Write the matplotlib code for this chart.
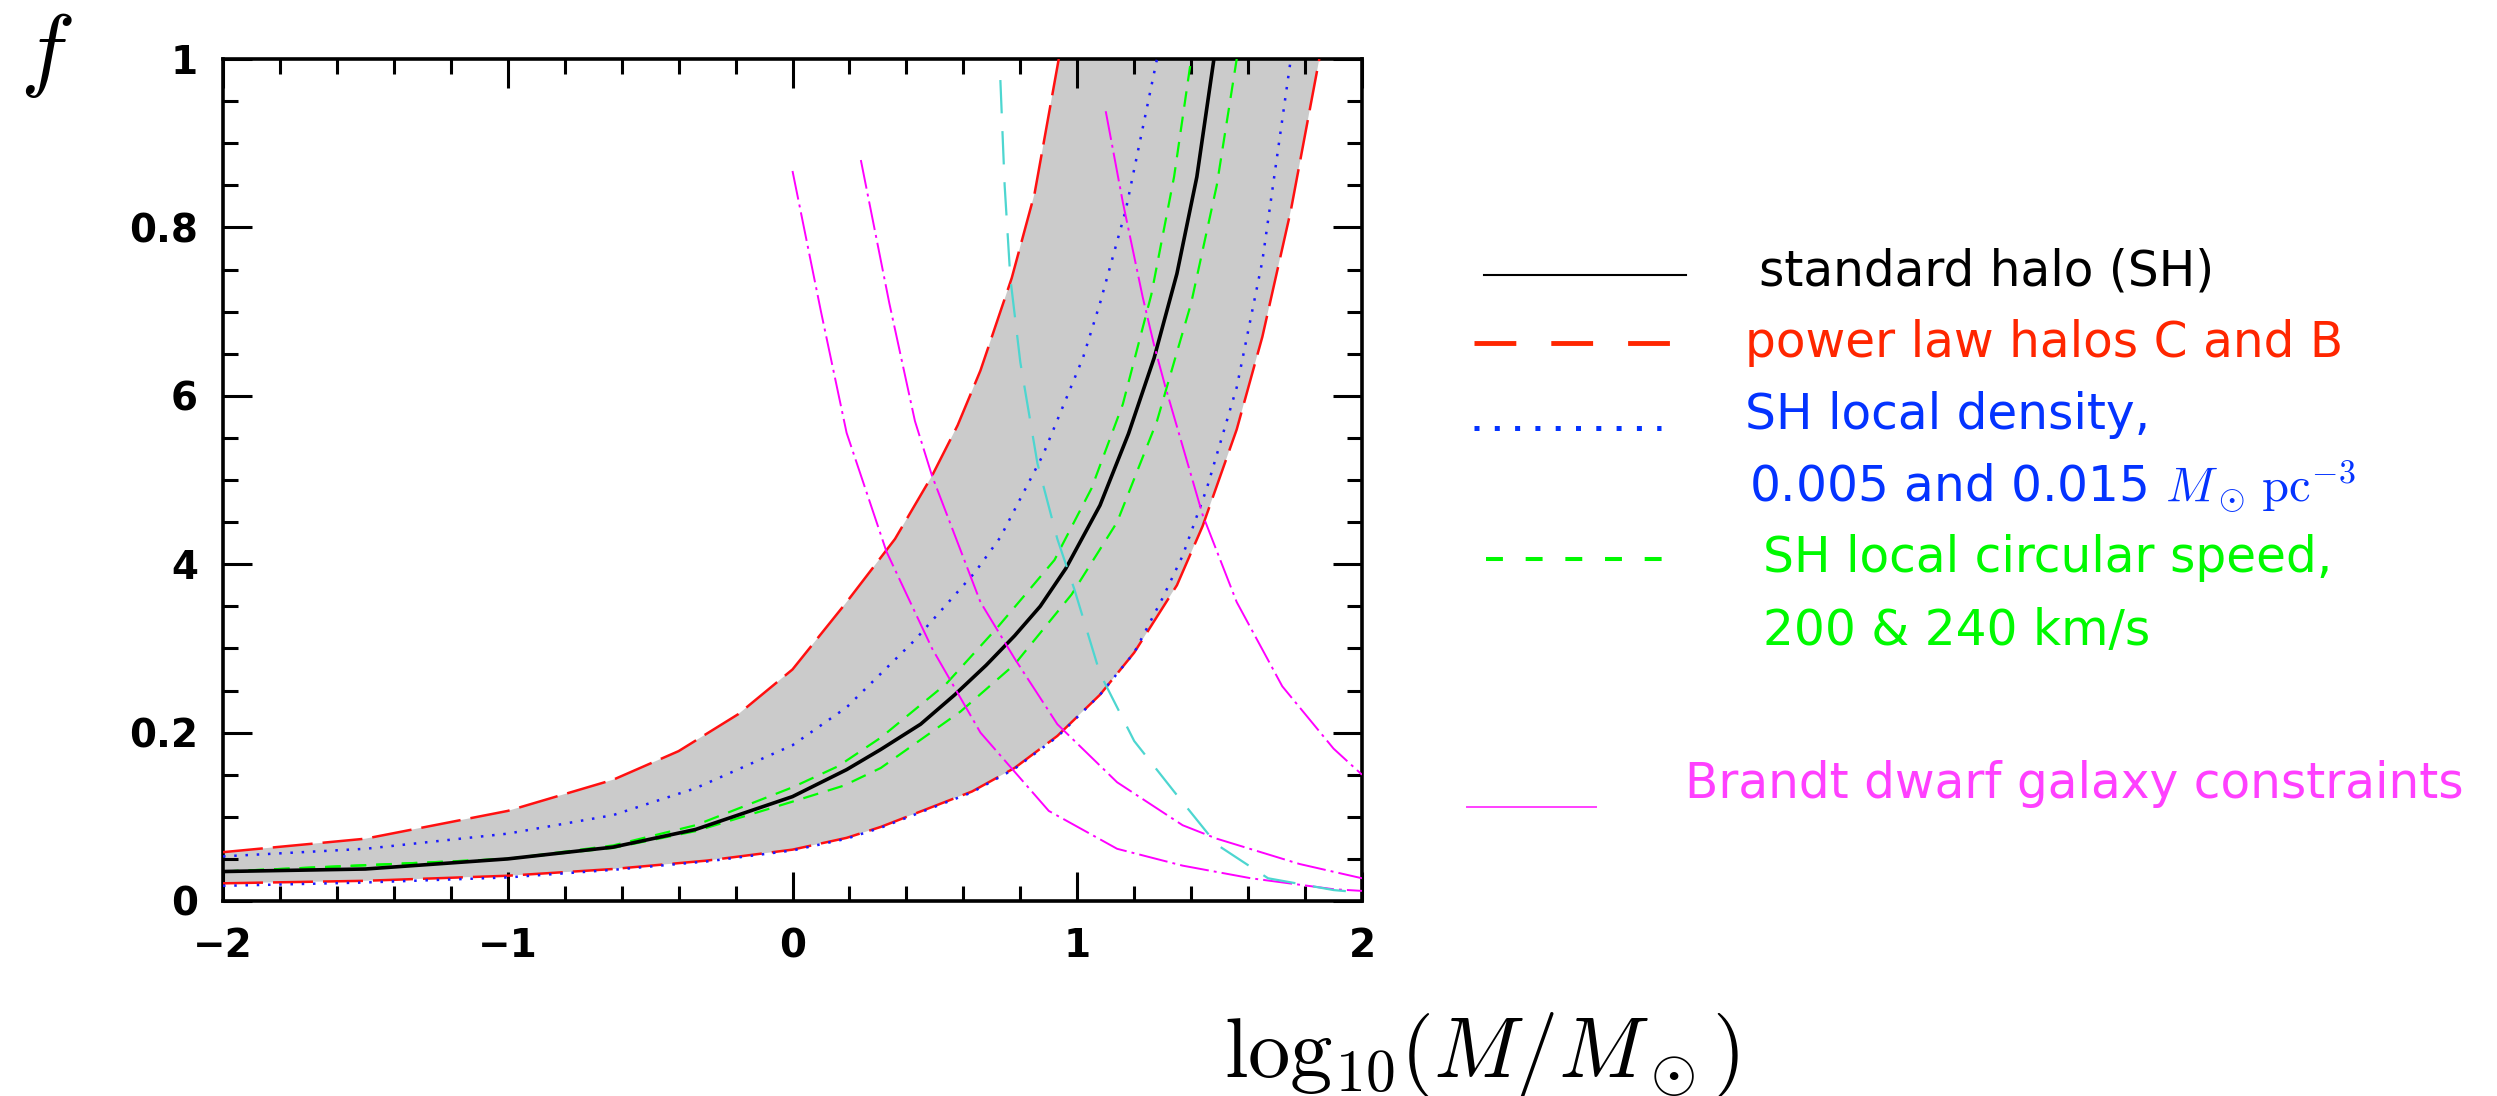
import matplotlib

matplotlib.use("Agg")
import matplotlib.pyplot as plt  # noqa: E402
from matplotlib.lines import Line2D  # noqa: E402
from matplotlib.ticker import FixedLocator, MultipleLocator  # noqa: E402

plt.rcParams["mathtext.fontset"] = "cm"
plt.rcParams["font.family"] = ["DejaVu Sans"]

W, H = 2497, 1096

# ---- data ------------------------------------------------------------------

# standard halo (SH)
sh_x = [-2, -1.5, -1, -0.63, -0.34, 0, 0.19, 0.31, 0.45, 0.57, 0.68, 0.78,
        0.87, 0.96, 1.08, 1.18, 1.27, 1.35, 1.42, 1.48]
sh_f = [0.035, 0.038, 0.05, 0.064, 0.085, 0.124, 0.156, 0.18, 0.21, 0.245,
        0.28, 0.315, 0.35, 0.395, 0.47, 0.555, 0.645, 0.745, 0.86, 1.0]

# power law halos C and B (edges of the grey band)
pl_hi_x = [-2, -1.5, -1, -0.63, -0.4, -0.19, 0, 0.19, 0.36, 0.49, 0.58, 0.66,
           0.77, 0.85, 0.935]
pl_hi_f = [0.058, 0.074, 0.107, 0.144, 0.178, 0.222, 0.275, 0.355, 0.43,
           0.505, 0.565, 0.63, 0.74, 0.84, 1.0]
pl_lo_x = [-2, -1.5, -1, -0.63, -0.3, 0, 0.19, 0.31, 0.63, 0.78, 0.93, 1.08,
           1.2, 1.35, 1.44, 1.56, 1.65, 1.75, 1.85]
pl_lo_f = [0.021, 0.024, 0.03, 0.038, 0.048, 0.061, 0.075, 0.088, 0.13, 0.158,
           0.196, 0.245, 0.295, 0.375, 0.445, 0.56, 0.67, 0.82, 1.0]

# SH local density 0.015 / 0.005
rho_hi_x = [-2, -1.5, -1, -0.63, -0.34, 0, 0.19, 0.43, 0.64, 0.73, 0.88,
            1.02, 1.08, 1.17, 1.28]
rho_hi_f = [0.053, 0.062, 0.08, 0.102, 0.134, 0.185, 0.23, 0.31, 0.39, 0.432,
            0.53, 0.645, 0.71, 0.82, 1.0]
rho_lo_x = [-2, -1.5, -1, -0.63, -0.3, 0, 0.19, 0.31, 0.63, 0.78, 0.93, 1.08,
            1.2, 1.3, 1.37, 1.455, 1.56, 1.65, 1.75]
rho_lo_f = [0.018, 0.022, 0.028, 0.037, 0.047, 0.06, 0.074, 0.087, 0.129,
            0.157, 0.195, 0.245, 0.295, 0.36, 0.41, 0.49, 0.61, 0.76, 1.0]

# SH local circular speed 200 / 240 km/s
vc_a_x = [-2, -1, -0.63, -0.34, 0, 0.16, 0.31, 0.54, 0.72, 0.92, 1.05, 1.16,
          1.26, 1.34, 1.40]
vc_a_f = [0.035, 0.05, 0.066, 0.09, 0.135, 0.16, 0.194, 0.258, 0.325, 0.405,
          0.49, 0.59, 0.72, 0.86, 1.0]
vc_b_x = [-2, -1, -0.63, -0.34, 0, 0.18, 0.31, 0.59, 0.78, 0.98, 1.14, 1.28,
          1.40, 1.49, 1.56]
vc_b_f = [0.035, 0.05, 0.063, 0.083, 0.118, 0.137, 0.158, 0.225, 0.281,
          0.364, 0.45, 0.57, 0.71, 0.85, 1.0]

# Brandt dwarf galaxy constraints
br1_x = [0, 0.1, 0.19, 0.33, 0.49, 0.66, 0.9, 1.14, 1.37, 1.61, 1.9, 2.0]
br1_f = [0.867, 0.70, 0.556, 0.415, 0.30, 0.20, 0.107, 0.062, 0.042, 0.027,
         0.014, 0.012]
br2_x = [0.24, 0.34, 0.43, 0.49, 0.66, 0.78, 0.93, 1.14, 1.37, 1.49, 1.78,
         2.0]
br2_f = [0.88, 0.71, 0.57, 0.505, 0.355, 0.288, 0.21, 0.141, 0.09, 0.074,
         0.044, 0.027]
br3_x = [1.10, 1.16, 1.23, 1.27, 1.31, 1.44, 1.56, 1.72, 1.90, 2.0]
br3_f = [0.938, 0.83, 0.717, 0.66, 0.61, 0.459, 0.355, 0.255, 0.181, 0.15]

# cyan dashed curve
cy_x = [0.73, 0.745, 0.765, 0.80, 0.86, 0.93, 0.99, 1.08, 1.2, 1.34, 1.49,
        1.67, 1.9, 2.0]
cy_f = [0.975, 0.85, 0.74, 0.64, 0.52, 0.43, 0.37, 0.27, 0.19, 0.13, 0.067,
        0.027, 0.013, 0.01]

x_ticks = [-2, -1, 0, 1, 2]
x_tick_labels = ["\u22122", "\u22121", "0", "1", "2"]
y_ticks = [0, 0.2, 0.4, 0.6, 0.8, 1.0]
y_tick_labels = ["0", "0.2", "4", "6", "0.8", "1"]

legend_labels = [
    "standard halo (SH)",
    "power law halos C and B",
    "SH local density,",
    r"0.005 and 0.015 $M_\odot\,\mathrm{pc}^{-3}$",
    "SH local circular speed,",
    "200 & 240 km/s",
    "Brandt dwarf galaxy constraints",
]

RED, BLUE, GREEN = "#ff1010", "#1a1aff", "#00ff00"
MAG, CYAN, GREY = "#ff00ff", "#4dd6d0", "#cbcbcb"


def fx(px):
    return px / W


def fy(py):
    return 1 - py / H


fig = plt.figure(figsize=(W / 100, H / 100), dpi=100, facecolor="white")
ax = fig.add_axes([fx(223), fy(901), (1362 - 223) / W, (901 - 59) / H])

# grey band between the two power-law halos
ax.fill(pl_hi_x + pl_lo_x[::-1], pl_hi_f + pl_lo_f[::-1], color=GREY, lw=0,
        zorder=1)

for xs, fs in [(pl_hi_x, pl_hi_f), (pl_lo_x, pl_lo_f)]:
    ax.plot(xs, fs, color=RED, lw=1.8, dashes=(16, 4), zorder=3)
for xs, fs in [(rho_hi_x, rho_hi_f), (rho_lo_x, rho_lo_f)]:
    ax.plot(xs, fs, color=BLUE, lw=1.8, dashes=(1, 3.5), zorder=3)
for xs, fs in [(vc_a_x, vc_a_f), (vc_b_x, vc_b_f)]:
    ax.plot(xs, fs, color=GREEN, lw=1.6, dashes=(7, 4.5), zorder=4)
ax.plot(sh_x, sh_f, color="black", lw=2.6, zorder=5)
for xs, fs in [(br1_x, br1_f), (br2_x, br2_f), (br3_x, br3_f)]:
    ax.plot(xs, fs, color=MAG, lw=1.4, dashes=(15, 2.6, 1.5, 2.6), zorder=6)
ax.plot(cy_x, cy_f, color=CYAN, lw=1.6, dashes=(15, 8), zorder=6)

ax.set_xlim(-2, 2)
ax.set_ylim(0, 1)
ax.xaxis.set_major_locator(FixedLocator(x_ticks))
ax.xaxis.set_minor_locator(MultipleLocator(0.2))
ax.yaxis.set_major_locator(FixedLocator(y_ticks))
ax.yaxis.set_minor_locator(MultipleLocator(0.05))
ax.set_xticklabels(x_tick_labels)
ax.set_yticklabels(y_tick_labels)
ax.tick_params(which="both", direction="in", top=True, right=True, width=2.2,
               color="black")
ax.tick_params(which="major", length=21, labelsize=28)
ax.tick_params(axis="y", which="major", pad=18)
ax.tick_params(axis="x", which="major", pad=19)
ax.tick_params(which="minor", length=11)
for lab in ax.get_xticklabels() + ax.get_yticklabels():
    lab.set_fontweight("bold")
for s in ax.spines.values():
    s.set_linewidth(2.6)

# axis titles placed as on the slide
fig.text(fx(20), fy(10), r"$f$", fontsize=66, ha="left", va="top")
fig.text(fx(1224), fy(1077), r"$\mathrm{log}_{10}(M/M_\odot)$", fontsize=61,
         ha="left", va="baseline")


# ---- hand-made legend -------------------------------------------------------

def key(x0, x1, y, **kw):
    fig.add_artist(Line2D([fx(x0), fx(x1)], [fy(y), fy(y)],
                          transform=fig.transFigure, **kw))


key(1484, 1686, 275, color="black", lw=1.5)
key(1474, 1671, 343, color="#ff2600", lw=3.5, dashes=(8.6, 7.2))
key(1474, 1661, 428, color="#0433ff", lw=3.6, dashes=(1, 3.06))
key(1486, 1662, 559, color="#00f900", lw=2.9, dashes=(4.2, 5.65))
key(1467, 1596, 807, color="#ff40ff", lw=1.4)

txt = [
    (1759, 285, "black"),
    (1745, 357, "#ff2600"),
    (1745, 429, "#0433ff"),
    (1749, 502, "#0433ff"),
    (1763, 572, "#00f900"),
    (1763, 645, "#00f900"),
    (1685, 798, "#ff40ff"),
]
for (x, y, c), s in zip(txt, legend_labels):
    fig.text(fx(x), fy(y), s, color=c, fontsize=35, ha="left", va="baseline")

fig.savefig("out.png", dpi=100, facecolor="white")
